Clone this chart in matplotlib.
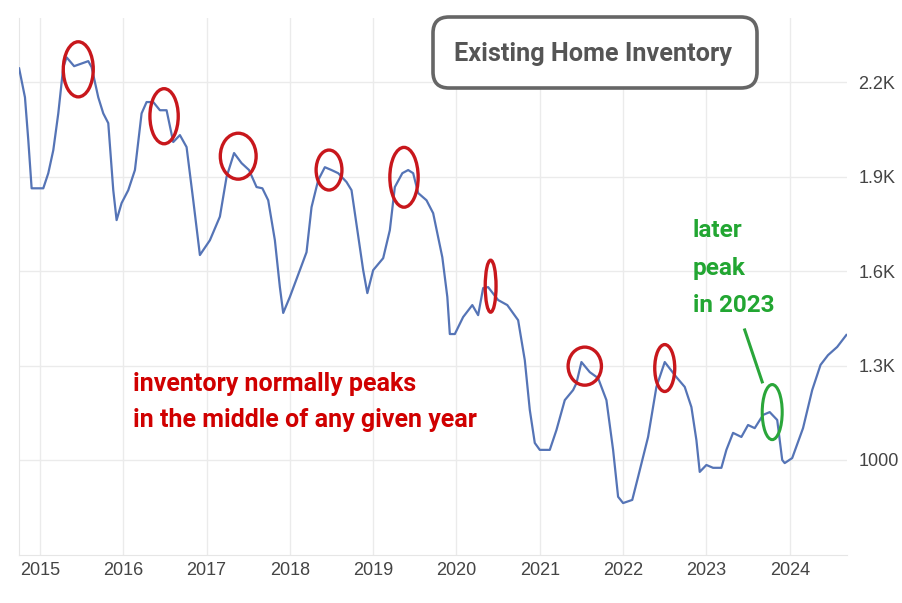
import numpy as np
import matplotlib.pyplot as plt
from matplotlib.patches import Ellipse, FancyBboxPatch
from matplotlib.transforms import IdentityTransform

# inventory line (decimal year, thousands)
years = [2014.75, 2014.82, 2014.86, 2014.90, 2015.04, 2015.10, 2015.16, 2015.22, 2015.28, 2015.32,
         2015.41, 2015.58, 2015.62, 2015.70, 2015.76, 2015.82, 2015.88, 2015.92, 2015.98, 2016.06,
         2016.14, 2016.22, 2016.28, 2016.36, 2016.44, 2016.52, 2016.60, 2016.68, 2016.76, 2016.84,
         2016.92, 2017.04, 2017.16, 2017.24, 2017.33, 2017.42, 2017.51, 2017.60, 2017.67, 2017.74,
         2017.82, 2017.88, 2017.92, 2018.00, 2018.12, 2018.20, 2018.26, 2018.34, 2018.42, 2018.50,
         2018.58, 2018.68, 2018.74, 2018.81, 2018.88, 2018.93, 2019.00, 2019.12, 2019.20, 2019.26,
         2019.35, 2019.42, 2019.48, 2019.54, 2019.64, 2019.72, 2019.83, 2019.89, 2019.92, 2019.98,
         2020.08, 2020.19, 2020.26, 2020.32, 2020.38, 2020.50, 2020.61, 2020.74, 2020.82, 2020.88,
         2020.94, 2021.00, 2021.12, 2021.20, 2021.30, 2021.40, 2021.44, 2021.50, 2021.60, 2021.70,
         2021.80, 2021.88, 2021.94, 2022.00, 2022.11, 2022.18, 2022.30, 2022.40, 2022.50, 2022.64,
         2022.74, 2022.82, 2022.88, 2022.92, 2023.00, 2023.08, 2023.18, 2023.24, 2023.32, 2023.42,
         2023.50, 2023.58, 2023.68, 2023.76, 2023.85, 2023.91, 2023.94, 2024.03, 2024.16, 2024.27,
         2024.37, 2024.46, 2024.57, 2024.68]
inventory = [2244, 2152, 2016, 1863, 1863, 1911, 1984, 2101, 2248, 2279,
             2251, 2267, 2248, 2152, 2101, 2070, 1857, 1762, 1816, 1857,
             1921, 2101, 2137, 2137, 2111, 2111, 2010, 2032, 1994, 1825,
             1651, 1698, 1773, 1899, 1975, 1943, 1921, 1867, 1863, 1825,
             1698, 1549, 1467, 1518, 1603, 1660, 1803, 1889, 1930, 1921,
             1911, 1883, 1857, 1730, 1603, 1530, 1603, 1641, 1730, 1867,
             1911, 1921, 1911, 1848, 1825, 1784, 1644, 1518, 1400, 1400,
             1454, 1492, 1460, 1546, 1549, 1508, 1492, 1444, 1317, 1159,
             1054, 1032, 1032, 1095, 1190, 1222, 1244, 1311, 1279, 1260,
             1190, 1032, 883, 863, 873, 946, 1073, 1232, 1311, 1263,
             1232, 1168, 1063, 962, 984, 975, 975, 1032, 1086, 1073,
             1111, 1101, 1143, 1152, 1127, 1000, 990, 1006, 1101, 1222,
             1302, 1333, 1359, 1397]

xticks = list(range(2015, 2025))
yticks = [1000, 1300, 1600, 1900, 2200]
ylabels = ['1000', '1.3K', '1.6K', '1.9K', '2.2K']

# red circles on the yearly peaks: (year, value, width in years, height)
peaks = [(2015.46, 2241, 0.36, 175), (2016.49, 2092, 0.34, 175), (2017.38, 1965, 0.43, 146),
         (2018.47, 1921, 0.31, 127), (2019.37, 1898, 0.34, 190), (2020.41, 1552, 0.13, 165),
         (2021.54, 1298, 0.40, 121), (2022.50, 1292, 0.24, 149)]
late_peak = (2023.79, 1152, 0.24, 175)

fig = plt.figure(figsize=(9.03, 6.03), dpi=100)
ax = fig.add_axes([0.021, 0.0796, 0.917, 0.890])

ax.plot(years, inventory, color='#5574b6', lw=1.6, solid_joinstyle='round', zorder=3)

for x, y, w, h in peaks:
    ax.add_patch(Ellipse((x, y), w, h, fill=False, ec='#c8171c', lw=2.4, zorder=4))
x, y, w, h = late_peak
ax.add_patch(Ellipse((x, y), w, h, fill=False, ec='#2aa63a', lw=2.2, zorder=4))
# pointer from the green note to the late peak
ax.plot([2023.46, 2023.67], [1413, 1248], color='#2aa63a', lw=2.2, zorder=4)

ax.set_xlim(2014.748, 2024.688)
ax.set_ylim(698, 2403)
ax.set_xticks(xticks)
ax.set_xticklabels([str(t) for t in xticks])
ax.set_yticks(yticks)
ax.set_yticklabels(ylabels)
ax.yaxis.tick_right()
ax.tick_params(length=0, colors='#444444', labelsize=13)
ax.tick_params(axis='y', pad=8)
ax.tick_params(axis='x', pad=5)
for lab in ax.get_xticklabels() + ax.get_yticklabels():
    lab.set_family('Liberation Sans')
ax.grid(True, color='#ebebeb', lw=1)
for s in ['top', 'right']:
    ax.spines[s].set_visible(False)
for s in ['left', 'bottom']:
    ax.spines[s].set_color('#e6e6e6')

# title box
fig.patches.append(FancyBboxPatch((433, 603 - 88), 324, 71, boxstyle='round,pad=0,rounding_size=16',
                                  transform=IdentityTransform(), fc='white', ec='#666666', lw=2.6,
                                  figure=fig, zorder=5))
fig.text(593 / 903, 1 - 54 / 603, 'Existing Home Inventory', ha='center', va='center',
         color='#555555', fontsize=18.2, fontweight='bold', family='Roboto', zorder=6)

fig.text(133 / 903, 1 - 402 / 603, 'inventory normally peaks\nin the middle of any given year',
         ha='left', va='center', color='#d00000', fontsize=18, fontweight='bold', family='Roboto',
         linespacing=1.65)
fig.text(693 / 903, 1 - 268 / 603, 'later\npeak\nin 2023', ha='left', va='center',
         color='#22a632', fontsize=17.5, fontweight='bold', family='Roboto', linespacing=1.78)

fig.savefig('out.png', dpi=100)
